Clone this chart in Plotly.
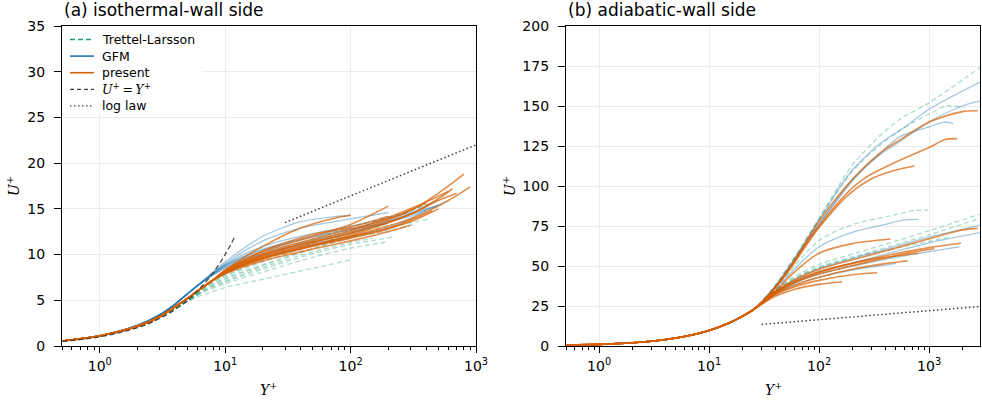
import math
import plotly.graph_objects as go

# ---------------- data: (Y+, U+) pairs per profile ----------------
# (a) isothermal-wall side
iso_inner_tl = [(0.5, 0.55), (1, 1.1), (2, 2.1), (3, 3.1), (4, 4.1), (5, 4.9)]
iso_tl_tails = [
    [(7, 5.7), (10, 6.4), (20, 7.3), (50, 8.5), (100, 9.4)],
    [(7, 6.0), (10, 6.8), (20, 8.1), (50, 9.7), (100, 10.7), (200, 11.4)],
    [(7, 6.1), (10, 7.0), (20, 8.4), (50, 10.1), (100, 11.1), (215, 11.9)],
    [(7, 6.2), (10, 7.1), (20, 8.6), (50, 10.3), (100, 11.3), (150, 11.8)],
    [(7, 6.3), (10, 7.3), (20, 8.8), (50, 10.6), (100, 11.8), (200, 12.6), (320, 13.3)],
    [(7, 6.4), (10, 7.4), (20, 8.9), (50, 10.7), (100, 11.9), (200, 13.0), (436, 13.9)],
    [(7, 6.5), (10, 7.6), (20, 9.2), (50, 11.0), (100, 12.3), (215, 13.3)],
    [(7, 6.6), (10, 7.7), (20, 9.4), (50, 11.3), (100, 12.7), (200, 14.0), (450, 15.6)],
    [(7, 6.7), (10, 7.9), (20, 9.7), (50, 11.7), (100, 13.0), (300, 14.8), (420, 15.6)],
]

iso_inner_gfm = [(0.5, 0.55), (1, 1.12), (2, 2.25), (3, 3.4), (4, 4.6), (6, 6.6)]
iso_gfm_tails = [
    [(10, 9.2), (20, 12.0), (40, 13.6), (70, 14.1), (100, 14.3)],
    [(10, 9.0), (20, 11.5), (40, 12.9), (100, 13.9), (200, 14.6)],
    [(10, 8.9), (20, 10.9), (50, 12.3), (100, 13.1), (200, 14.0), (540, 15.5)],
    [(10, 8.8), (20, 10.5), (50, 11.9), (100, 12.7), (200, 13.7), (500, 15.3)],
    [(10, 8.7), (20, 10.3), (50, 11.6), (100, 12.5), (300, 14.2), (600, 15.9)],
    [(10, 8.6), (20, 10.1), (50, 11.4), (100, 12.3), (300, 14.5), (500, 16.0)],
    [(10, 8.8), (20, 10.6), (50, 12.0), (100, 12.8), (200, 13.4)],
    [(10, 8.5), (20, 9.9), (50, 11.2), (100, 12.0), (200, 12.9), (400, 14.8)],
]

iso_inner_present = [(0.5, 0.55), (1, 1.1), (2, 2.15), (3, 3.2), (4, 4.3), (5, 5.2), (6, 6.0), (8, 7.2)]
iso_present_tails = [
    [(10, 8.3), (20, 10.9), (40, 12.9), (70, 13.9), (100, 14.3)],
    [(10, 8.2), (20, 10.3), (50, 12.0), (100, 13.3), (200, 15.3)],
    [(10, 8.1), (20, 9.8), (50, 11.3), (100, 12.4), (300, 14.8), (500, 16.7), (800, 18.8)],
    [(10, 8.0), (20, 9.6), (50, 11.0), (100, 12.0), (300, 13.9), (600, 15.9), (900, 17.4)],
    [(10, 8.1), (20, 9.9), (50, 11.5), (100, 12.6), (300, 15.0), (600, 16.9)],
    [(10, 8.0), (20, 9.7), (50, 11.1), (100, 12.1), (300, 14.4), (500, 15.9), (700, 16.7)],
    [(10, 8.2), (20, 10.1), (50, 11.7), (100, 12.8), (200, 13.9), (400, 15.6)],
    [(10, 7.9), (20, 9.5), (50, 10.9), (100, 11.8), (200, 12.8), (450, 14.8)],
    [(10, 8.0), (20, 9.6), (50, 11.0), (100, 11.9), (300, 13.6), (500, 15.0)],
    [(10, 8.3), (20, 10.4), (50, 12.2), (100, 13.0), (200, 14.2)],
    [(10, 7.9), (20, 9.3), (50, 10.6), (100, 11.5), (200, 12.5), (300, 13.2)],
    [(10, 8.1), (20, 10.0), (50, 11.4), (100, 12.3), (300, 14.4), (500, 16.1), (650, 17.2)],
]

viscous_Y = [0.5, 1, 2, 3, 4, 5, 6, 8, 10, 12]
viscous_U = [0.5, 1, 2, 3, 4, 5, 6, 8, 10, 12]

loglaw_iso_Y = [30, 1000]
loglaw_iso_U = [13.5, 22.0]

# (b) adiabatic-wall side
adi_inner = [(0.5, 0.5), (1, 1.0), (2, 2.0), (3, 3.0), (5, 5.0), (7, 6.9), (10, 9.7),
             (15, 14.2), (20, 18.5), (25, 22.5)]
adi_tl_tails = [
    [(30, 27.8), (40, 38), (55, 52), (70, 63), (100, 80), (150, 100), (200, 113), (365, 132),
     (550, 142), (1000, 152), (2900, 174)],
    [(30, 27.7), (40, 37.5), (55, 51), (70, 62), (100, 79), (200, 109), (365, 126), (550, 135),
     (1000, 145), (1460, 150), (2080, 149)],
    [(30, 27.3), (40, 35), (55, 47), (100, 66), (195, 75.6), (420, 81), (735, 84.6), (975, 85)],
    [(30, 27.3), (40, 35), (60, 43.5), (100, 51), (300, 61), (1000, 72), (2900, 82.5)],
    [(30, 27.2), (40, 34.5), (60, 42.5), (100, 49.5), (300, 59), (1000, 69.5), (2900, 79.8)],
    [(30, 27.0), (40, 34.2), (60, 42), (100, 49), (300, 58), (800, 64), (1500, 68)],
]
adi_gfm_tails = [
    [(30, 27.6), (40, 37.5), (55, 51), (70, 62), (100, 79), (150, 98), (200, 110), (365, 127),
     (550, 135), (1000, 148), (2900, 165)],
    [(30, 27.4), (40, 37), (55, 50), (70, 61), (100, 76), (200, 104), (365, 120), (550, 128),
     (1000, 140), (2000, 150), (2900, 153)],
    [(30, 27.4), (40, 37), (55, 50), (70, 61), (100, 76), (200, 103), (365, 121), (550, 131),
     (1000, 137), (1400, 140), (1660, 139)],
    [(30, 27.2), (40, 34.5), (55, 45.5), (100, 62), (200, 71), (400, 76), (600, 78.8), (800, 79.2)],
    [(30, 26.5), (40, 32.5), (60, 38.3), (100, 43), (200, 47.5), (500, 51.7)],
    [(30, 26.8), (40, 33.5), (60, 40.5), (100, 46.5), (300, 55), (1000, 64.5), (2900, 70.8)],
    [(30, 26.6), (40, 33), (60, 39.5), (100, 45), (300, 52.5), (1000, 59), (1890, 62)],
    [(30, 27.0), (40, 34), (60, 41.5), (100, 48.5), (300, 58), (1000, 68), (2900, 75.5)],
]
adi_present_tails = [
    [(30, 27.3), (40, 37), (55, 50), (70, 61), (100, 78), (200, 104), (365, 121), (550, 129),
     (1000, 140), (2000, 146.5), (2770, 147)],
    [(30, 27.2), (40, 36.5), (55, 49), (70, 60), (100, 75), (182, 96), (258, 104.8), (500, 115),
     (1000, 124), (1400, 129), (1800, 129.6)],
    [(30, 27.1), (40, 36), (55, 48.5), (70, 59), (100, 74), (182, 94), (306, 104.8), (500, 110),
     (735, 112.5)],
    [(30, 27.0), (40, 34), (55, 44), (100, 58), (200, 64), (445, 66.9)],
    [(30, 26.0), (40, 31), (60, 35.5), (100, 38.5), (162, 40.2)],
    [(30, 26.3), (40, 32), (60, 37), (100, 41), (200, 44.5), (337, 45.8)],
    [(30, 26.5), (40, 32.5), (60, 38), (100, 43), (200, 48), (400, 51.5), (640, 53.3)],
    [(30, 26.7), (40, 33), (60, 39.5), (100, 45), (300, 53), (700, 58.5), (1120, 60.8)],
    [(30, 26.8), (40, 33.5), (60, 40), (100, 46), (300, 54.5), (1000, 61.5), (1950, 64.2)],
    [(30, 27.0), (40, 34), (60, 41.5), (100, 48), (300, 57), (1000, 67), (2000, 72.5), (2770, 73.5)],
    [(30, 26.8), (40, 33.5), (60, 40.5), (100, 46.5), (300, 54), (800, 58)],
]

loglaw_adi_Y = [30, 2900]
loglaw_adi_U = [13.5, 24.7]

major_ticks = [1, 10, 100, 1000]
major_labels = ["10<sup>0</sup>", "10<sup>1</sup>", "10<sup>2</sup>", "10<sup>3</sup>"]

legend_labels = [
    "Trettel-Larsson",
    "GFM",
    "present",
    "<span style='font-family:DejaVu Serif'><i>U</i><sup>+</sup>\u2009=\u2009<i>Y</i><sup>+</sup></span>",
    "log law",
]

# ---------------- styling ----------------
C_TL = "#1b9e77"
C_GFM = "#1f77b4"
C_PRE = "#d95f02"
C_REF = "#404040"
FONT = "DejaVu Sans, Liberation Sans, sans-serif"
DASH = "5px,3px"
DOT = "1.5px,2.5px"

W, H = 982, 403
dom_a = [62 / W, 476 / W]
dom_b = [566 / W, 980 / W]
dom_y = [(H - 346) / H, (H - 26) / H]

fig = go.Figure()


def add_profiles(inner, tails, color, dash, width, opacity, xa, ya):
    for tail in tails:
        pts = inner + tail
        fig.add_trace(go.Scatter(
            x=[p[0] for p in pts], y=[p[1] for p in pts], mode="lines",
            line=dict(color=color, dash=dash, width=width, shape="spline", smoothing=0.8),
            opacity=opacity, showlegend=False, hoverinfo="skip", xaxis=xa, yaxis=ya))


# panel (a)
add_profiles(iso_inner_tl, iso_tl_tails, C_TL, DASH, 1.3, 0.35, "x", "y")
add_profiles(iso_inner_gfm, iso_gfm_tails, C_GFM, "solid", 1.3, 0.4, "x", "y")
add_profiles(iso_inner_present, iso_present_tails, C_PRE, "solid", 1.6, 0.7, "x", "y")
fig.add_trace(go.Scatter(x=viscous_Y, y=viscous_U, mode="lines",
                         line=dict(color=C_REF, dash=DASH, width=1.2, shape="spline"),
                         showlegend=False, hoverinfo="skip", xaxis="x", yaxis="y"))
fig.add_trace(go.Scatter(x=loglaw_iso_Y, y=loglaw_iso_U, mode="lines",
                         line=dict(color=C_REF, dash=DOT, width=1.5),
                         showlegend=False, hoverinfo="skip", xaxis="x", yaxis="y"))

# panel (b)
add_profiles(adi_inner, adi_tl_tails, C_TL, DASH, 1.3, 0.35, "x2", "y2")
add_profiles(adi_inner, adi_gfm_tails, C_GFM, "solid", 1.3, 0.4, "x2", "y2")
add_profiles(adi_inner, adi_present_tails, C_PRE, "solid", 1.6, 0.7, "x2", "y2")
fig.add_trace(go.Scatter(x=loglaw_adi_Y, y=loglaw_adi_U, mode="lines",
                         line=dict(color=C_REF, dash=DOT, width=1.5),
                         showlegend=False, hoverinfo="skip", xaxis="x2", yaxis="y2"))

minor_vals = [m * 10 ** e for e in range(-1, 4) for m in range(2, 10)] + [0.5, 0.6, 0.7, 0.8, 0.9]

axis_common = dict(
    showline=True, linecolor="black", linewidth=1.2, mirror=True, automargin=False,
    ticks="outside", ticklen=6, tickwidth=1, tickcolor="black",
    showgrid=True, gridcolor="#ebebeb", gridwidth=1, zeroline=False,
    tickfont=dict(family=FONT, size=14, color="black"),
)
xaxis_common = dict(axis_common, type="log", tickmode="array", tickvals=major_ticks,
                    ticktext=major_labels, ticklabelstandoff=1,
                    minor=dict(tickmode="array", tickvals=minor_vals, ticks="outside",
                               ticklen=3, tickcolor="black", showgrid=False))
yaxis_common = dict(axis_common, ticklen=7, ticklabelstandoff=6)

fig.update_layout(
    width=W, height=H, margin=dict(l=0, r=0, t=0, b=0),
    paper_bgcolor="white", plot_bgcolor="white",
    font=dict(family=FONT, size=13, color="black"),
    xaxis=dict(xaxis_common, domain=dom_a, anchor="y", range=[math.log10(0.5), 3]),
    yaxis=dict(yaxis_common, domain=dom_y, anchor="x", range=[0, 35], dtick=5),
    xaxis2=dict(xaxis_common, domain=dom_b, anchor="y2", range=[math.log10(0.5), 3.463]),
    yaxis2=dict(yaxis_common, domain=dom_y, anchor="x2", range=[0, 200], dtick=25),
    showlegend=False,
)


# helpers for pixel-based paper coordinates
def px(x):
    return x / W


def py(y):
    return (H - y) / H


# legend box
fig.add_shape(type="rect", xref="paper", yref="paper", x0=px(63), x1=px(202), y0=py(114), y1=py(27),
              fillcolor="rgba(255,255,255,0.9)", line=dict(width=0), layer="above")
legend_styles = [(C_TL, DASH), (C_GFM, "solid"), (C_PRE, "solid"), (C_REF, "4px,3px"), (C_REF, DOT)]
for i, (label, (color, dash)) in enumerate(zip(legend_labels, legend_styles)):
    yc = 39.5 + 16.6 * i
    fig.add_shape(type="line", xref="paper", yref="paper", x0=px(70), x1=px(94), y0=py(yc), y1=py(yc),
                  line=dict(color=color, dash=dash, width=1.6 if dash == "solid" else 1.3),
                  layer="above")
    fig.add_annotation(text=label, xref="paper", yref="paper", x=px(100), y=py(yc),
                       xanchor="left", yanchor="middle", showarrow=False,
                       font=dict(family=FONT, size=12.5, color="black"))

annots = [
    dict(text="(a) isothermal-wall side", x=px(62), y=py(10), xanchor="left", yanchor="middle",
         font=dict(size=17)),
    dict(text="(b) adiabatic-wall side", x=px(566), y=py(10), xanchor="left", yanchor="middle",
         font=dict(size=17)),
    dict(text="<i>U</i><sup>+</sup>", x=px(13), y=py(186), textangle=-90, xanchor="center",
         yanchor="middle", font=dict(family="DejaVu Serif", size=14)),
    dict(text="<i>U</i><sup>+</sup>", x=px(509), y=py(186), textangle=-90, xanchor="center",
         yanchor="middle", font=dict(family="DejaVu Serif", size=14)),
    dict(text="<i>Y</i><sup>+</sup>", x=px(268), y=py(389), xanchor="center", yanchor="middle",
         font=dict(family="DejaVu Serif", size=14)),
    dict(text="<i>Y</i><sup>+</sup>", x=px(773), y=py(389), xanchor="center", yanchor="middle",
         font=dict(family="DejaVu Serif", size=14)),
]
for a in annots:
    fig.add_annotation(xref="paper", yref="paper", showarrow=False, **a)

fig.write_html("out.html")
